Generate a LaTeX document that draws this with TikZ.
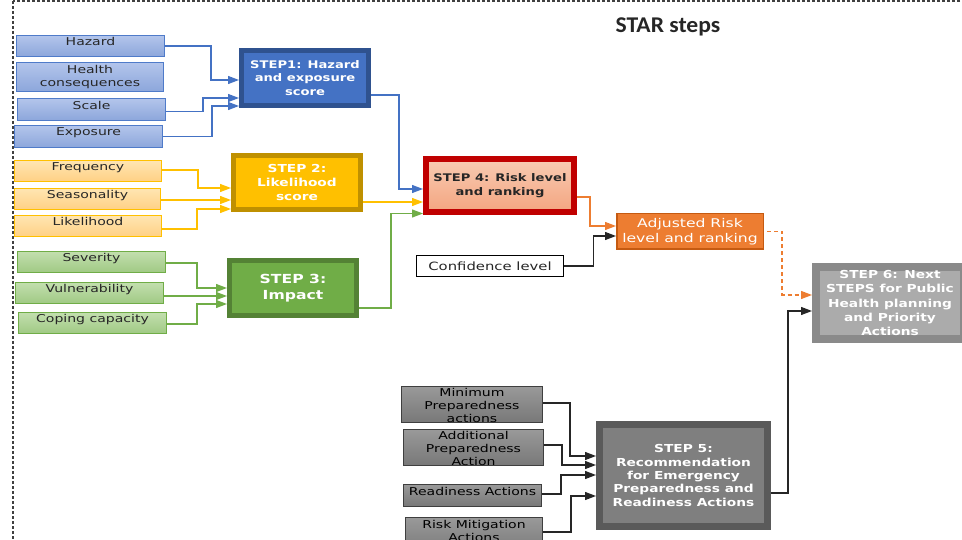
\documentclass[tikz,border=0pt]{standalone}
\usepackage{fontspec}
\usetikzlibrary{arrows.meta,calc}
\newfontfamily\boxfont[FakeStretch=1.3]{DejaVu Sans}
\newfontfamily\stepfont[FakeStretch=1.25]{DejaVu Sans}
\newfontfamily\titlefont[FakeStretch=1.05]{Carlito}

\definecolor{bluefill}{HTML}{4472C4}
\definecolor{blueedge}{HTML}{2F528F}
\definecolor{bluein}{HTML}{4F7BC9}
\definecolor{bluetop}{HTML}{B3C5EB}
\definecolor{bluebot}{HTML}{8CA6DB}
\definecolor{yelfill}{HTML}{FFC000}
\definecolor{yeledge}{HTML}{BF9000}
\definecolor{yeltop}{HTML}{FFE5B2}
\definecolor{yelbot}{HTML}{FFD185}
\definecolor{grnfill}{HTML}{70AD47}
\definecolor{grnedge}{HTML}{548235}
\definecolor{grntop}{HTML}{C2DFAE}
\definecolor{grnbot}{HTML}{A0CA84}
\definecolor{redge}{HTML}{C00000}
\definecolor{saltop}{HTML}{F8CBB3}
\definecolor{salbot}{HTML}{F4A580}
\definecolor{orafill}{HTML}{ED7D31}
\definecolor{oraedge}{HTML}{C55A11}
\definecolor{graytop}{HTML}{999999}
\definecolor{graybot}{HTML}{787878}
\definecolor{grayedge}{HTML}{3F3F3F}
\definecolor{s5fill}{HTML}{7F7F7F}
\definecolor{s5edge}{HTML}{5A5A5A}
\definecolor{s6fill}{HTML}{ABABAB}
\definecolor{s6edge}{HTML}{8A8A8A}
\definecolor{txt}{HTML}{262626}
\definecolor{framecol}{HTML}{404040}

\begin{document}
\begin{tikzpicture}[x=1pt,y=-1pt,
  inbase/.style={draw, line width=1.2pt, inner sep=0pt},
  inblue/.style={inbase, draw=bluein, top color=bluetop, bottom color=bluebot},
  inyel/.style={inbase, draw=yelfill, top color=yeltop, bottom color=yelbot},
  ingrn/.style={inbase, draw=grnfill, top color=grntop, bottom color=grnbot},
  ingray/.style={inbase, draw=grayedge, top color=graytop, bottom color=graybot},
  lbl/.style={anchor=north, inner sep=0pt, align=center, text=txt,
    font=\boxfont\fontsize{10.8}{12.8}\selectfont},
  glbl/.style={lbl, text=black, font=\boxfont\fontsize{10.8}{13.3}\selectfont},
  stepbox/.style={draw, align=center, inner sep=0pt, text=white,
    font=\stepfont\bfseries\fontsize{10.5}{13.3}\selectfont},
  conn/.style={line width=1.3pt, -{Triangle[length=11pt,width=8pt]}},
  frame/.style={draw=framecol, line width=1.2pt, dash pattern=on 3pt off 2pt},
  titletext/.style={anchor=base, inner sep=0pt, text=txt,
    font=\titlefont\bfseries\fontsize{22.5}{25}\selectfont},
]
\clip (0,0) rectangle (962,540);
\useasboundingbox (0,0) rectangle (962,540);

% dashed outline of the panel
\draw[frame] (13,1) rectangle (1000,600);

\node[titletext] (title) at (668,33) {STAR steps};

% ---- hazard and exposure inputs
\node[inblue, minimum width=148pt, minimum height=21pt] (hazard) at (90.5,46) {};
\node[inblue, minimum width=147pt, minimum height=29pt] (health) at (90,77) {};
\node[inblue, minimum width=148pt, minimum height=22pt] (scale) at (91.5,109.5) {};
\node[inblue, minimum width=148pt, minimum height=22pt] (exposure) at (88.5,136.5) {};
\node[lbl] (hazard-t) at ($(hazard.north)+(0,2.5)$) {Hazard};
\node[lbl] (health-t) at ($(health.north)+(0,3.5)$) {Health\\consequences};
\node[lbl] (scale-t) at ($(scale.north)+(0,3)$) {Scale};
\node[lbl] (exposure-t) at ($(exposure.north)+(0,3)$) {Exposure};

% ---- likelihood inputs
\node[inyel, minimum width=147pt, minimum height=21pt] (frequency) at (88,171) {};
\node[inyel, minimum width=146pt, minimum height=21pt] (seasonality) at (87.5,199) {};
\node[inyel, minimum width=147pt, minimum height=21pt] (likelihood) at (88,226) {};
\node[lbl] (frequency-t) at ($(frequency.north)+(0,2.5)$) {Frequency};
\node[lbl] (seasonality-t) at ($(seasonality.north)+(0,2.5)$) {Seasonality};
\node[lbl] (likelihood-t) at ($(likelihood.north)+(0,2.5)$) {Likelihood};

% ---- impact inputs
\node[ingrn, minimum width=148pt, minimum height=21pt] (severity) at (91.5,262) {};
\node[ingrn, minimum width=148pt, minimum height=21pt] (vulnerability) at (89.5,293) {};
\node[ingrn, minimum width=148pt, minimum height=21pt] (coping) at (92.5,323) {};
\node[lbl] (severity-t) at ($(severity.north)+(0,2.5)$) {Severity};
\node[lbl] (vulnerability-t) at ($(vulnerability.north)+(0,2.5)$) {Vulnerability};
\node[lbl] (coping-t) at ($(coping.north)+(0,2.5)$) {Coping capacity};

% ---- preparedness inputs
\node[ingray, minimum width=141pt, minimum height=36pt] (minimum) at (472,404.5) {};
\node[ingray, minimum width=140pt, minimum height=36pt] (additional) at (473.5,447.5) {};
\node[ingray, minimum width=138pt, minimum height=22pt] (readiness) at (472.5,495.5) {};
\node[ingray, minimum width=137pt, minimum height=37pt] (riskmit) at (474,536) {};
\node[glbl] (minimum-t) at ($(minimum.north)+(0,2)$) {Minimum\\Preparedness\\actions};
\node[glbl] (additional-t) at ($(additional.north)+(0,2)$) {Additional\\Preparedness\\Action};
\node[glbl] (readiness-t) at ($(readiness.north)+(0,3)$) {Readiness Actions};
\node[glbl] (riskmit-t) at ($(riskmit.north)+(0,3)$) {Risk Mitigation\\Actions};

% ---- steps
\node[stepbox, line width=5pt, draw=blueedge, fill=bluefill,
  minimum width=127pt, minimum height=55pt] (step1) at (305,78)
  {STEP1: Hazard\\and exposure\\score};
\node[stepbox, line width=5pt, draw=yeledge, fill=yelfill,
  minimum width=127pt, minimum height=54pt,
  font=\stepfont\bfseries\fontsize{11}{14}\selectfont] (step2) at (297,182.5)
  {STEP 2:\\Likelihood\\score};
\node[stepbox, line width=5pt, draw=grnedge, fill=grnfill,
  minimum width=127pt, minimum height=55pt,
  font=\stepfont\bfseries\fontsize{12.5}{16}\selectfont] (step3) at (293,288)
  {STEP 3:\\Impact};
\node[stepbox, line width=6pt, draw=redge, top color=saltop, bottom color=salbot,
  minimum width=148pt, minimum height=53pt, text=txt] (step4) at (500,185.5)
  {STEP 4: Risk level\\and ranking};
\node[stepbox, line width=1.5pt, draw=oraedge, fill=orafill,
  minimum width=146.5pt, minimum height=35.5pt,
  font=\boxfont\fontsize{12}{15}\selectfont] (adjusted) at (690,231.5)
  {Adjusted Risk\\level and ranking};
\node[stepbox, line width=1.5pt, draw=black, fill=white, text=txt,
  minimum width=147pt, minimum height=21pt,
  font=\boxfont\fontsize{11.4}{13}\selectfont] (confidence) at (490,266)
  {Confidence level};
\node[stepbox, line width=8pt, draw=s6edge, fill=s6fill,
  minimum width=148pt, minimum height=72pt,
  font=\stepfont\bfseries\fontsize{11}{14.3}\selectfont] (step6) at (890,303)
  {STEP 6: Next\\STEPS for Public\\Health planning\\and Priority\\Actions};
\node[stepbox, line width=7pt, draw=s5edge, fill=s5fill,
  minimum width=168pt, minimum height=102pt,
  font=\stepfont\bfseries\fontsize{11}{13.4}\selectfont] (step5) at (683.5,475.5)
  {STEP 5:\\Recommendation\\for Emergency\\Preparedness and\\Readiness Actions};

% ---- connectors into step 1
\draw[conn, bluefill] (hazard.east) -- ++(46,0) |- ($(step1.west)+(0,2)$);
\draw[conn, bluefill] ($(scale.east)+(0,2)$) -- ++(37,0) |- ($(step1.west)+(0,20)$);
\draw[conn, bluefill] (exposure.east) -- ++(49,0) |- ($(step1.west)+(0,28)$);
% ---- connectors into step 2
\draw[conn, yelfill] ($(frequency.east)+(0,-1)$) -- ++(36,0) |- ($(step2.west)+(0,5.5)$);
\draw[conn, yelfill] ($(seasonality.east)+(0,1)$) -- ($(step2.west)+(0,17.5)$);
\draw[conn, yelfill] ($(likelihood.east)+(0,3)$) -- ++(35,0) |- ($(step2.west)+(0,26.5)$);
% ---- connectors into step 3
\draw[conn, grnfill] ($(severity.east)+(0,1)$) -- ++(31,0) |- (step3.west);
\draw[conn, grnfill] ($(vulnerability.east)+(0,3)$) -- ($(step3.west)+(0,8)$);
\draw[conn, grnfill] ($(coping.east)+(0,1)$) -- ++(30,0) |- ($(step3.west)+(0,16)$);
% ---- steps 1-3 into step 4
\draw[conn, bluefill] ($(step1.east)+(0,17)$) -- ++(28,0) |- ($(step4.west)+(0,3.5)$);
\draw[conn, yelfill] ($(step2.east)+(0,19.5)$) -- ($(step4.west)+(0,16.5)$);
\draw[conn, grnfill] ($(step3.east)+(0,20)$) -- ++(32,0) |- ($(step4.west)+(0,28)$);
% ---- risk adjustment
\draw[conn, orafill] ($(step4.east)+(0,11.5)$) -- ++(13,0) |- ($(adjusted.west)+(0,-5.5)$);
\draw[conn, txt] (confidence.east) -- ++(29,0) |- ($(adjusted.west)+(0,4.5)$);
\draw[conn, orafill, dash pattern=on 4pt off 3pt] ($(adjusted.east)+(3,0)$) -- ++(15,0) |- ($(step6.west)+(0,-8)$);
% ---- preparedness into step 5
\draw[conn, txt] ($(minimum.east)+(0,-1.5)$) -- ++(27,0) |- ($(step5.west)+(0,-19.5)$);
\draw[conn, txt] ($(additional.east)+(0,-2.5)$) -- ++(18,0) |- ($(step5.west)+(0,-10.5)$);
\draw[conn, txt] ($(readiness.east)+(0,-1.5)$) -- ++(19,0) |- ($(step5.west)+(0,-0.5)$);
\draw[conn, txt] ($(riskmit.east)+(0,-4)$) -- ++(28,0) |- ($(step5.west)+(0,20.5)$);
% ---- step 5 into step 6
\draw[conn, txt] ($(step5.east)+(0,17.5)$) -- ++(17,0) |- ($(step6.west)+(0,8)$);
\end{tikzpicture}
\end{document}
